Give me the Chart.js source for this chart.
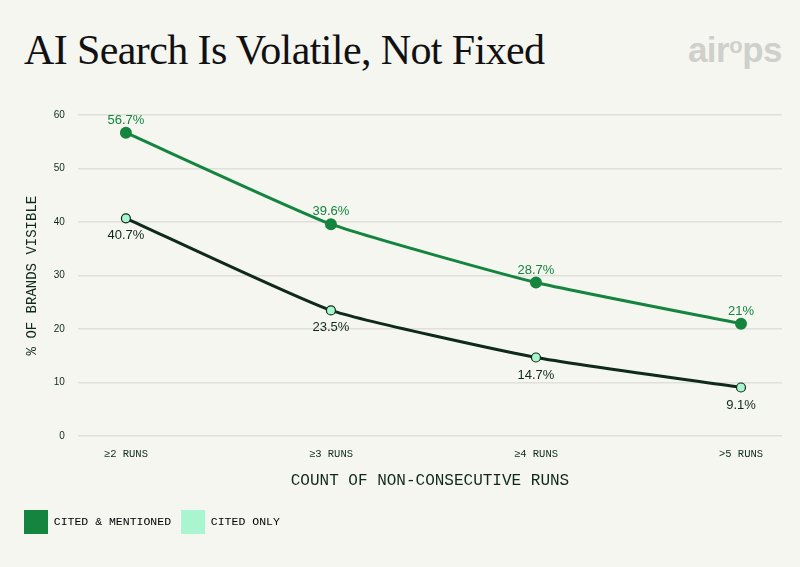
<!DOCTYPE html>
<html>
<head>
<meta charset="utf-8">
<script src="https://cdn.jsdelivr.net/npm/chart.js@4.4.0/dist/chart.umd.min.js"></script>
<style>
  html, body { margin: 0; padding: 0; background: #f6f6f1; }
  #wrap { position: relative; width: 800px; height: 567px; }
  #title {
    position: absolute; left: 24px; top: 26px;
    font-family: "Liberation Serif", "DejaVu Serif", serif;
    font-size: 42px; color: #111; letter-spacing: -0.6px;
  }
  #logo {
    position: absolute; right: 18px; top: 30px;
    font-family: "Liberation Sans", Arial, sans-serif; font-weight: bold;
    font-size: 35px; color: #cfcfcc; letter-spacing: -0.5px;
  }
  #logo sup { font-size: 22px; vertical-align: 9px; }
</style>
</head>
<body>
<div id="wrap">
  <div id="title">AI Search Is Volatile, Not Fixed</div>
  <div id="logo">air<sup>o</sup>ps</div>
  <canvas id="myChart" width="800" height="567" style="position:absolute;left:0;top:0;"></canvas>
</div>
<script>
// chart values
const categories = ["≥2 RUNS", "≥3 RUNS", "≥4 RUNS", ">5 RUNS"];
const citedMentioned = [56.7, 39.6, 28.7, 21];
const citedOnly = [40.7, 23.5, 14.7, 9.1];
const seriesNames = ["CITED & MENTIONED", "CITED ONLY"];
const yTicks = [0, 10, 20, 30, 40, 50, 60];

const green = "#14843f";
const dark = "#0f2a18";
const mint = "#a9f5cf";

const toPoints = (arr) => arr.map((v, i) => ({ x: i, y: v }));

// draw the % labels next to each point
const valueLabels = {
  id: "valueLabels",
  afterDatasetsDraw(chart) {
    const ctx = chart.ctx;
    ctx.save();
    ctx.font = "13px 'Liberation Sans', Arial, sans-serif";
    ctx.textAlign = "center";
    chart.data.datasets.forEach((ds, di) => {
      const meta = chart.getDatasetMeta(di);
      meta.data.forEach((pt, i) => {
        const above = di === 0;
        ctx.fillStyle = above ? green : dark;
        ctx.textBaseline = above ? "bottom" : "top";
        ctx.fillText(ds.data[i].y + "%", pt.x, above ? pt.y - 6 : pt.y + 11);
      });
    });
    ctx.restore();
  },
};

const ctx = document.getElementById("myChart");
new Chart(ctx, {
  type: "line",
  data: {
    datasets: [
      {
        label: seriesNames[0],
        data: toPoints(citedMentioned),
        borderColor: green,
        backgroundColor: green,
        pointBackgroundColor: green,
        pointBorderColor: green,
        borderWidth: 3,
        pointRadius: 4.5,
        tension: 0.15,
      },
      {
        label: seriesNames[1],
        data: toPoints(citedOnly),
        borderColor: dark,
        backgroundColor: mint,
        pointBackgroundColor: mint,
        pointBorderColor: dark,
        pointBorderWidth: 1.2,
        borderWidth: 3,
        pointRadius: 4.5,
        tension: 0.15,
      },
    ],
  },
  options: {
    responsive: false,
    animation: false,
    layout: { padding: { left: 14, right: 18, top: 115, bottom: 23 } },
    scales: {
      x: {
        type: "linear",
        min: -0.234,
        max: 3.2,
        afterBuildTicks: (axis) => { axis.ticks = categories.map((c, i) => ({ value: i })); },
        ticks: {
          callback: (v) => categories[v],
          color: dark,
          font: { family: "'Liberation Mono', monospace", size: 10.5 },
          padding: 4,
          maxRotation: 0,
        },
        grid: { display: false },
        border: { display: false },
        title: {
          display: true,
          text: "COUNT OF NON-CONSECUTIVE RUNS",
          color: dark,
          font: { family: "'Liberation Mono', monospace", size: 16 },
          padding: { top: 6, bottom: 10 },
        },
      },
      y: {
        min: 0,
        max: 60,
        afterBuildTicks: (axis) => { axis.ticks = yTicks.map((v) => ({ value: v })); },
        ticks: {
          color: dark,
          font: { family: "'Liberation Sans', Arial, sans-serif", size: 10 },
          padding: 13,
        },
        grid: { color: "#e0e0da", lineWidth: 1.5, drawTicks: false },
        border: { display: false },
        title: {
          display: true,
          text: "% OF BRANDS VISIBLE",
          color: dark,
          font: { family: "'Liberation Mono', monospace", size: 14 },
          padding: { top: 10, bottom: 0 },
        },
      },
    },
    plugins: {
      legend: {
        position: "bottom",
        align: "start",
        labels: {
          boxWidth: 24,
          boxHeight: 24,
          padding: 10,
          color: dark,
          font: { family: "'Liberation Mono', monospace", size: 11.5 },
          generateLabels: (chart) => [
            { text: seriesNames[0], fillStyle: green, strokeStyle: green, lineWidth: 0, datasetIndex: 0 },
            { text: seriesNames[1], fillStyle: mint, strokeStyle: mint, lineWidth: 0, datasetIndex: 1 },
          ],
        },
      },
      tooltip: { enabled: false },
    },
  },
  plugins: [valueLabels],
});
</script>
</body>
</html>
